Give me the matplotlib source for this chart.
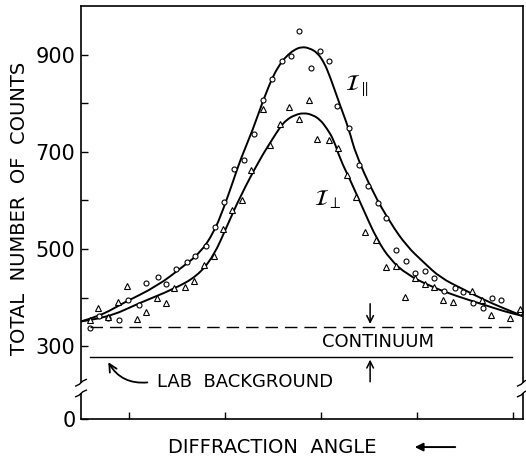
import matplotlib
matplotlib.use('Agg')
import matplotlib.pyplot as plt
from matplotlib.path import Path
from matplotlib.patches import PathPatch, FancyArrowPatch

plt.rcParams['font.family'] = ['DejaVu Sans']
plt.rcParams['mathtext.fontset'] = 'stix'

# measured points, parallel polarisation (circles)
par_x = [0.09, 0.19, 0.28, 0.40, 0.49, 0.60, 0.68, 0.80, 0.89, 0.99, 1.10, 1.19, 1.30, 1.39,
         1.49, 1.59, 1.70, 1.80, 1.89, 1.99, 2.09, 2.19, 2.27, 2.39, 2.49, 2.58, 2.67, 2.79,
         2.89, 2.99, 3.09, 3.18, 3.28, 3.38, 3.48, 3.58, 3.68, 3.78, 3.89, 3.98, 4.08, 4.18,
         4.28, 4.37, 4.57]
par_y = [338, 363, 358, 353, 394, 384, 429, 443, 427, 458, 474, 485, 506, 546,
         596, 664, 683, 736, 806, 849, 887, 897, 948, 873, 907, 887, 795, 749,
         672, 629, 594, 563, 497, 475, 451, 454, 441, 413, 419, 411, 389, 379,
         400, 395, 370]

# measured points, perpendicular polarisation (triangles)
perp_x = [0.09, 0.18, 0.28, 0.38, 0.48, 0.58, 0.68, 0.79, 0.88, 0.97, 1.08, 1.18, 1.28, 1.38,
          1.48, 1.57, 1.68, 1.77, 1.89, 1.97, 2.07, 2.17, 2.27, 2.37, 2.46, 2.58, 2.68, 2.77,
          2.86, 2.96, 3.07, 3.18, 3.28, 3.37, 3.48, 3.58, 3.67, 3.77, 3.87, 4.07, 4.17, 4.27,
          4.47, 4.57]
perp_y = [353, 378, 360, 391, 423, 355, 370, 400, 388, 420, 422, 435, 466, 485,
          541, 581, 600, 662, 789, 713, 758, 792, 768, 806, 727, 725, 708, 652,
          607, 535, 518, 463, 465, 402, 441, 428, 421, 394, 391, 413, 396, 364,
          357, 376]

# fitted curves
fit_par_x = [0.0, 0.2, 0.44, 0.79, 1.07, 1.24, 1.38, 1.48, 1.59, 1.66, 1.79, 1.90, 2.00, 2.07,
             2.14, 2.22, 2.30, 2.38, 2.46, 2.53, 2.59, 2.70, 2.79, 2.86, 3.04, 3.22, 3.39,
             3.57, 3.74, 3.98, 4.2, 4.4, 4.6]
fit_par_y = [351, 362, 389, 423, 465, 492, 533, 581, 643, 684, 746, 808, 856, 880,
             897, 910, 916, 913, 904, 884, 856, 794, 746, 695, 616, 554, 506,
             472, 441, 417, 395, 378, 362]
fit_perp_x = [0.0, 0.27, 0.61, 0.96, 1.21, 1.38, 1.52, 1.66, 1.86, 1.99, 2.07, 2.14, 2.23,
              2.32, 2.41, 2.49, 2.56, 2.63, 2.70, 2.80, 2.94, 3.08, 3.22, 3.39, 3.64, 3.91,
              4.2, 4.4, 4.6]
fit_perp_y = [351, 358, 389, 417, 444, 485, 547, 609, 684, 725, 750, 766, 776,
              780, 776, 766, 748, 725, 684, 643, 581, 520, 478, 448, 423, 403,
              385, 372, 362]

continuum = 340
lab_background = 278

ytick_pos = [150, 300, 500, 700, 900]
ytick_lab = ['0', '300', '500', '700', '900']
yminor = [400, 600, 800]
xticks = [0.5, 1.5, 2.5, 3.5, 4.5]


def smooth_curve(ax, xs, ys, **kw):
    # quadratic bezier through midpoints, control points are the read values
    pts = list(zip(xs, ys))
    verts = [pts[0]]
    codes = [Path.MOVETO]
    for i in range(1, len(pts) - 1):
        mid = ((pts[i][0] + pts[i + 1][0]) / 2, (pts[i][1] + pts[i + 1][1]) / 2)
        verts += [pts[i], mid]
        codes += [Path.CURVE3, Path.CURVE3]
    verts.append(pts[-1])
    codes.append(Path.LINETO)
    ax.add_patch(PathPatch(Path(verts, codes), fc='none', **kw))


fig = plt.figure(figsize=(5.26, 4.59), dpi=100)
ax = fig.add_axes([0.154, 0.087, 0.840, 0.900])
ax.set_xlim(0, 4.6)
ax.set_ylim(150, 1000)

smooth_curve(ax, fit_par_x, fit_par_y, ec='k', lw=1.4)
smooth_curve(ax, fit_perp_x, fit_perp_y, ec='k', lw=1.4)
ax.plot(par_x, par_y, 'o', ms=3.6, mfc='white', mec='k', mew=0.8, ls='none')
ax.plot(perp_x, perp_y, '^', ms=4.2, mfc='white', mec='k', mew=0.8, ls='none')

ax.plot([0.09, 4.49], [continuum, continuum], c='k', lw=1.0, dashes=(9, 5))
ax.plot([0.09, 4.49], [lab_background, lab_background], c='k', lw=1.0)

ax.annotate('', xy=(3.01, continuum), xytext=(3.01, 393),
            arrowprops=dict(arrowstyle='->', lw=1.1, color='k', mutation_scale=12))
ax.annotate('', xy=(3.01, lab_background), xytext=(3.01, 221),
            arrowprops=dict(arrowstyle='->', lw=1.1, color='k', mutation_scale=12))
ax.text(3.09, 308, 'CONTINUUM', ha='center', va='center', fontsize=13)
ax.text(1.71, 226, 'LAB  BACKGROUND', ha='center', va='center', fontsize=13)
ax.annotate('', xy=(0.27, 272), xytext=(0.72, 226),
            arrowprops=dict(arrowstyle='->', lw=1.3, color='k', mutation_scale=14,
                            connectionstyle='arc3,rad=-0.35'))

ax.text(2.87, 835, r'$\mathcal{I}_{\parallel}$', fontsize=16, ha='center', va='center')
ax.text(2.57, 602, r'$\mathcal{I}_{\perp}$', fontsize=16, ha='center', va='center')

ax.set_yticks(ytick_pos)
ax.set_yticklabels(ytick_lab, fontsize=15)
ax.set_yticks(yminor, minor=True)
ax.set_xticks(xticks)
ax.set_xticklabels([])
ax.tick_params(axis='both', which='both', direction='in', length=5, width=1.0, pad=4)
for s in ax.spines.values():
    s.set_linewidth(1.2)

# axis breaks on both sides
for xa in (0.0, 1.0):
    ax.add_patch(plt.Rectangle((xa - 0.01, 0.062), 0.02, 0.026, transform=ax.transAxes,
                               fc='white', ec='none', clip_on=False, zorder=5))
    for yb in (0.062, 0.088):
        ax.plot([xa - 0.012, xa - 0.004, xa + 0.004, xa + 0.012],
                [yb - 0.008, yb - 0.004, yb + 0.004, yb + 0.008],
                transform=ax.transAxes, c='k', lw=1.0, clip_on=False, zorder=6)

fig.text(0.038, 0.547, 'TOTAL  NUMBER  OF  COUNTS', rotation=90, ha='center', va='center',
         fontsize=14)
fig.text(0.517, 0.024, 'DIFFRACTION  ANGLE', ha='center', va='center', fontsize=14)
fig.add_artist(FancyArrowPatch((458 / 526, 0.026), (412 / 526, 0.026),
                               transform=fig.transFigure, arrowstyle='-|>',
                               mutation_scale=12, lw=1.4, color='k'))

fig.savefig('out.png', dpi=100)
